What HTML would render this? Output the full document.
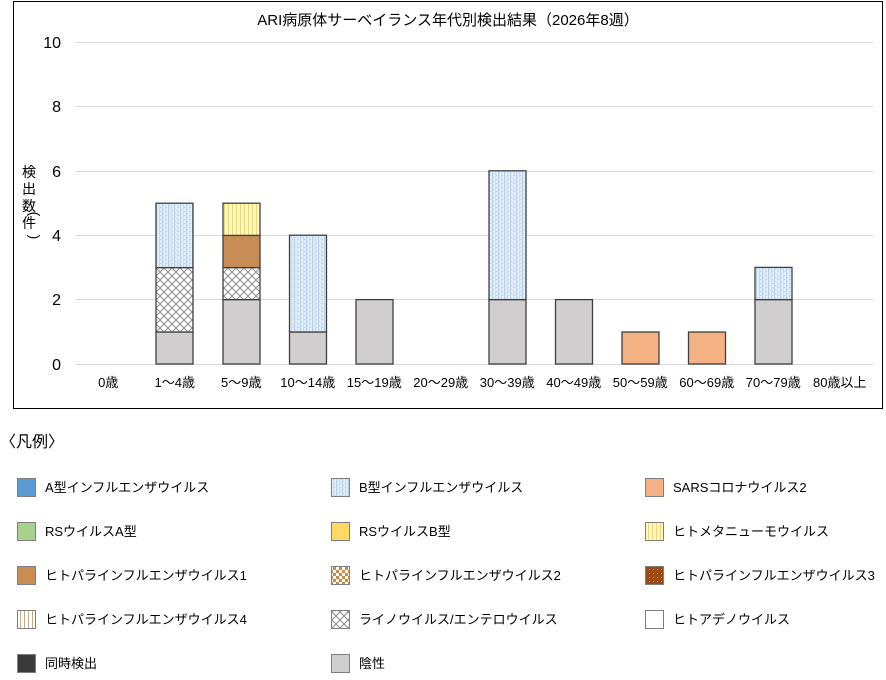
<!DOCTYPE html>
<html><head><meta charset="utf-8">
<style>
html,body{margin:0;padding:0;background:#fff;}
body{width:886px;height:675px;overflow:hidden;position:relative;font-family:"Liberation Sans","Noto Sans CJK JP",sans-serif;}
svg text{font-family:"Liberation Sans","Noto Sans CJK JP",sans-serif;fill:#000;}
</style></head>
<body>
<svg width="886" height="675" viewBox="0 0 886 675" xmlns="http://www.w3.org/2000/svg">
<defs>
<pattern id="pB" width="6" height="4" patternUnits="userSpaceOnUse">
<rect width="6" height="4" fill="#e2eef9"/>
<rect x="0" y="0" width="1" height="4" fill="#b3cfec"/>
<rect x="3" y="0" width="1" height="4" fill="#c6dcf2"/>
<rect x="1" y="1" width="1" height="1" fill="#c6dcf2"/>
<rect x="4" y="3" width="1" height="1" fill="#b3cfec"/>
</pattern>
<pattern id="pR" width="8" height="8" patternUnits="userSpaceOnUse">
<rect width="8" height="8" fill="#fff"/>
<path d="M0 0L8 8M8 0L0 8M-1 7L1 9M7 -1L9 1M-1 1L1 -1M7 9L9 7" stroke="#8a8a8a" stroke-width="1" fill="none"/>
</pattern>
<pattern id="pM" width="4" height="4" patternUnits="userSpaceOnUse">
<rect width="4" height="4" fill="#fff6c0"/>
<rect x="0" y="0" width="1" height="4" fill="#ead77a"/>
</pattern>
<pattern id="pP2" width="6" height="6" patternUnits="userSpaceOnUse">
<rect width="6" height="6" fill="#fff"/>
<rect width="3" height="3" fill="#c98a4a"/>
<rect x="3" y="3" width="3" height="3" fill="#c98a4a"/>
</pattern>
<pattern id="pP3" width="4" height="4" patternUnits="userSpaceOnUse">
<rect width="4" height="4" fill="#9c4a14"/>
<rect x="1" y="1" width="1" height="1" fill="#d08a50"/>
</pattern>
<pattern id="pP4" width="4" height="4" patternUnits="userSpaceOnUse">
<rect width="4" height="4" fill="#fff"/>
<rect x="0" y="0" width="1" height="4" fill="#c9a58a"/>
</pattern>
</defs>

<!-- chart frame -->
<rect x="13.5" y="1.5" width="869" height="407" fill="#fff" stroke="#000" stroke-width="1"/>

<text x="448" y="25" font-size="15" text-anchor="middle">ARI病原体サーベイランス年代別検出結果（2026年8週）</text>

<!-- gridlines -->
<g stroke="#d9d9d9" stroke-width="1">
<line x1="75" y1="42.5" x2="873" y2="42.5"/>
<line x1="75" y1="106.5" x2="873" y2="106.5"/>
<line x1="75" y1="171.5" x2="873" y2="171.5"/>
<line x1="75" y1="235.5" x2="873" y2="235.5"/>
<line x1="75" y1="299.5" x2="873" y2="299.5"/>
<line x1="75" y1="364.5" x2="873" y2="364.5"/>
</g>

<!-- y ticks -->
<g font-size="16" text-anchor="end">
<text x="61" y="48">10</text>
<text x="61" y="112">8</text>
<text x="61" y="177">6</text>
<text x="61" y="241">4</text>
<text x="61" y="305">2</text>
<text x="61" y="370">0</text>
</g>
<g font-size="14" text-anchor="middle">
<text x="29" y="177">検</text>
<text x="29" y="194">出</text>
<text x="29" y="211">数</text>
<text x="0" y="0" transform="translate(35,214) rotate(90)" text-anchor="middle" dy="0.35em">(</text>
<text x="29" y="228">件</text>
<text x="0" y="0" transform="translate(35,237) rotate(90)" text-anchor="middle" dy="0.35em">)</text>
</g>

<!-- bars -->
<g stroke="#404040" stroke-width="1.3">
<!-- 1~4 -->
<rect x="156" y="332" width="37" height="32" fill="#d0cece"/>
<rect x="156" y="267.6" width="37" height="64.4" fill="url(#pR)"/>
<rect x="156" y="203.2" width="37" height="64.4" fill="url(#pB)"/>
<!-- 5~9 -->
<rect x="223" y="299.6" width="37" height="64.4" fill="#d0cece"/>
<rect x="223" y="267.6" width="37" height="32" fill="url(#pR)"/>
<rect x="223" y="235.4" width="37" height="32.2" fill="#c78d55"/>
<rect x="223" y="203.2" width="37" height="32.2" fill="url(#pM)"/>
<!-- 10~14 -->
<rect x="289.5" y="332" width="37" height="32" fill="#d0cece"/>
<rect x="289.5" y="235.2" width="37" height="96.8" fill="url(#pB)"/>
<!-- 15~19 -->
<rect x="356" y="299.6" width="37" height="64.4" fill="#d0cece"/>
<!-- 30~39 -->
<rect x="489" y="299.6" width="37" height="64.4" fill="#d0cece"/>
<rect x="489" y="170.8" width="37" height="128.8" fill="url(#pB)"/>
<!-- 40~49 -->
<rect x="555.5" y="299.6" width="37" height="64.4" fill="#d0cece"/>
<!-- 50~59 -->
<rect x="622" y="332" width="37" height="32" fill="#f4b183"/>
<!-- 60~69 -->
<rect x="688.5" y="332" width="37" height="32" fill="#f4b183"/>
<!-- 70~79 -->
<rect x="755" y="299.6" width="37" height="64.4" fill="#d0cece"/>
<rect x="755" y="267.4" width="37" height="32.2" fill="url(#pB)"/>
</g>

<!-- x labels -->
<g font-size="13" text-anchor="middle">
<text x="108.25" y="387">0歳</text>
<text x="174.75" y="387">1～4歳</text>
<text x="241.25" y="387">5～9歳</text>
<text x="307.75" y="387">10～14歳</text>
<text x="374.25" y="387">15～19歳</text>
<text x="440.75" y="387">20～29歳</text>
<text x="507.25" y="387">30～39歳</text>
<text x="573.75" y="387">40～49歳</text>
<text x="640.25" y="387">50～59歳</text>
<text x="706.75" y="387">60～69歳</text>
<text x="773.25" y="387">70～79歳</text>
<text x="839.75" y="387">80歳以上</text>
</g>

<!-- legend -->
<text x="0" y="447" font-size="16">〈凡例〉</text>
<g stroke="#7f7f7f" stroke-width="1">
<rect x="17.5" y="478.5" width="18" height="18" fill="#5b9bd5"/>
<rect x="331.5" y="478.5" width="18" height="18" fill="url(#pB)"/>
<rect x="645.5" y="478.5" width="18" height="18" fill="#f4b183"/>
<rect x="17.5" y="522.5" width="18" height="18" fill="#a9d18e"/>
<rect x="331.5" y="522.5" width="18" height="18" fill="#ffd966"/>
<rect x="645.5" y="522.5" width="18" height="18" fill="url(#pM)"/>
<rect x="17.5" y="566.5" width="18" height="18" fill="#c78d55"/>
<rect x="331.5" y="566.5" width="18" height="18" fill="url(#pP2)"/>
<rect x="645.5" y="566.5" width="18" height="18" fill="url(#pP3)"/>
<rect x="17.5" y="610.5" width="18" height="18" fill="url(#pP4)"/>
<rect x="331.5" y="610.5" width="18" height="18" fill="url(#pR)"/>
<rect x="645.5" y="610.5" width="18" height="18" fill="#fff"/>
<rect x="17.5" y="654.5" width="18" height="18" fill="#3a3a3a"/>
<rect x="331.5" y="654.5" width="18" height="18" fill="#d0cece"/>
</g>
<g font-size="13">
<text x="45" y="492">A型インフルエンザウイルス</text>
<text x="359" y="492">B型インフルエンザウイルス</text>
<text x="673" y="492">SARSコロナウイルス2</text>
<text x="45" y="536">RSウイルスA型</text>
<text x="359" y="536">RSウイルスB型</text>
<text x="673" y="536">ヒトメタニューモウイルス</text>
<text x="45" y="580">ヒトパラインフルエンザウイルス1</text>
<text x="359" y="580">ヒトパラインフルエンザウイルス2</text>
<text x="673" y="580">ヒトパラインフルエンザウイルス3</text>
<text x="45" y="624">ヒトパラインフルエンザウイルス4</text>
<text x="359" y="624">ライノウイルス/エンテロウイルス</text>
<text x="673" y="624">ヒトアデノウイルス</text>
<text x="45" y="668">同時検出</text>
<text x="359" y="668">陰性</text>
</g>
</svg>
</body></html>
